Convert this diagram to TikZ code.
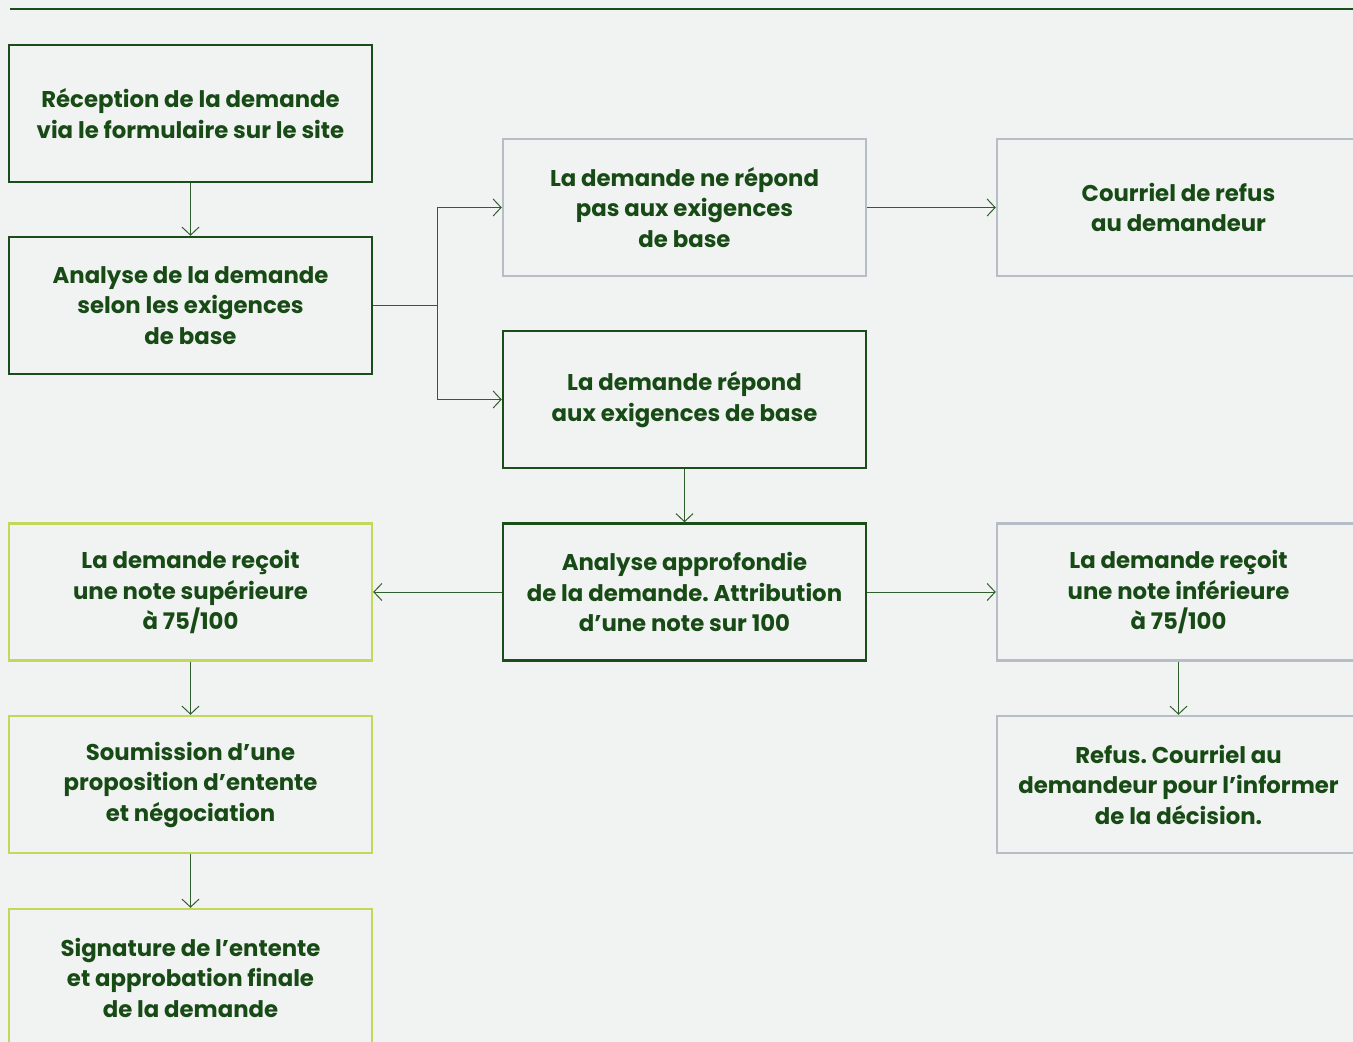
\documentclass[tikz,border=0pt]{standalone}
\usepackage{fontspec}
\setmainfont{Poppins}
\usetikzlibrary{arrows.meta}
\definecolor{bg}{HTML}{F1F3F2}
\definecolor{dkgreen}{HTML}{1B4D1B}
\definecolor{txtgreen}{HTML}{174A15}
\definecolor{ltgreen}{HTML}{C3D75A}
\definecolor{grayb}{HTML}{B6BDC6}
\definecolor{arrowc}{HTML}{2F5F2C}
\frenchspacing
\begin{document}
\begin{tikzpicture}[x=1pt,y=-1pt,
  box/.style={draw, line width=2.4pt, minimum width=363pt, minimum height=137pt,
    inner sep=0pt, align=center, text=txtgreen,
    font=\fontsize{22.8}{30.5}\selectfont\bfseries},
  darkbox/.style={box, draw=dkgreen},
  lightbox/.style={box, draw=ltgreen},
  graybox/.style={box, draw=grayb},
  conn/.style={draw=arrowc, line width=1pt, -{Straight Barb[length=8pt,width=17pt]}},
  plain/.style={draw=arrowc, line width=1pt}]
\fill[bg] (0,0) rectangle (1353,1042);
\useasboundingbox (0,0) rectangle (1353,1042);
\draw[dkgreen, line width=2.4pt] (10,9) -- (1360,9);
% left column
\node[darkbox] (rec) at (190.5,113.5) {Réception de la demande\\via le formulaire sur le site};
\node[darkbox] (ana) at (190.5,305.5) {Analyse de la demande\\selon les exigences\\de base};
\node[lightbox] (sup) at (190.5,592) {La demande reçoit\\une note supérieure\\à 75/100};
\node[lightbox] (sou) at (190.5,784.5) {Soumission d’une\\proposition d’entente\\et négociation};
\node[lightbox] (sig) at (190.5,977.5) {Signature de l’entente\\et approbation finale\\de la demande};
% middle column
\node[graybox] (nrep) at (684.5,207.5) {La demande ne répond\\pas aux exigences\\de base};
\node[darkbox] (rep) at (684.5,399.5) {La demande répond\\aux exigences de base};
\node[darkbox] (app) at (684.5,592) {Analyse approfondie\\de la demande. Attribution\\d’une note sur 100};
% right column
\node[graybox] (cour) at (1178.5,207.5) {Courriel de refus\\au demandeur};
\node[graybox] (inf) at (1178.5,592) {La demande reçoit\\une note inférieure\\à 75/100};
\node[graybox] (refus) at (1178.5,784.5) {Refus. Courriel au\\demandeur pour l’informer\\de la décision.};
% connectors
\coordinate (split) at (437,305.5);
\draw[conn] (rec) -- (ana);
\draw[plain] (ana.east) -- (split);
\draw[conn] (split) |- (nrep.west);
\draw[conn] (split) |- (rep.west);
\draw[conn] (nrep) -- (cour);
\draw[conn] (rep) -- (app);
\draw[conn] (app) -- (sup);
\draw[conn] (app) -- (inf);
\draw[conn] (sup) -- (sou);
\draw[conn] (sou) -- (sig);
\draw[conn] (inf) -- (refus);
\end{tikzpicture}
\end{document}
